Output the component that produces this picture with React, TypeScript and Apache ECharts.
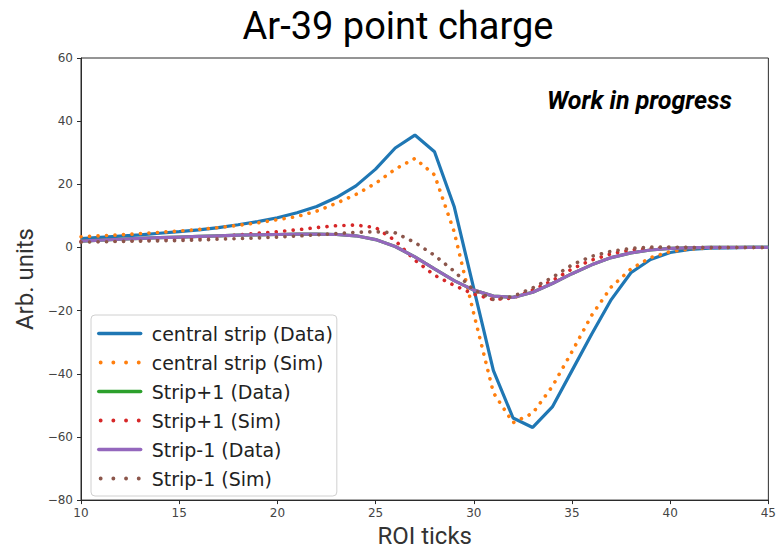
import React, { useEffect, useRef } from "react";
import * as echarts from "echarts";

// ROI tick positions (x) shared by every trace
const roiTicks = [
  10, 11, 12, 13, 14, 15, 16, 17, 18, 19, 20, 21, 22, 23, 24, 25, 26, 27,
  28, 29, 30, 31, 32, 33, 34, 35, 36, 37, 38, 39, 40, 41, 42, 43, 44, 45,
];

const centralData = [
  2.8, 3.2, 3.6, 4.0, 4.5, 5.0, 5.6, 6.3, 7.2, 8.2, 9.4, 11.0, 13.0, 15.8,
  19.5, 24.8, 31.5, 35.6, 30.3, 13.0, -13.0, -39.0, -54.0, -57.0, -50.5,
  -39.0, -27.5, -16.5, -8.0, -3.8, -1.6, -0.6, -0.2, -0.1, 0.0, 0.0,
];

const centralSim = [
  3.4, 3.7, 4.0, 4.4, 4.8, 5.2, 5.7, 6.3, 7.0, 7.8, 8.8, 9.8, 11.5, 14.0,
  16.8, 20.3, 24.8, 28.2, 23.0, 5.0, -21.0, -46.0, -55.5, -52.5, -44.0,
  -33.0, -21.5, -12.5, -6.8, -3.2, -1.3, -0.5, -0.2, 0.0, 0.0, 0.0,
];

const stripPlusData = [
  2.0, 2.3, 2.6, 2.9, 3.1, 3.3, 3.5, 3.7, 3.9, 4.0, 4.1, 4.2, 4.2, 4.1,
  3.7, 2.5, 0.3, -3.0, -6.8, -10.5, -13.5, -15.4, -15.8, -14.2, -11.4,
  -8.3, -5.5, -3.2, -1.7, -0.8, -0.3, -0.1, 0.0, 0.0, 0.0, 0.0,
];

const stripPlusSim = [
  1.9, 2.0, 2.1, 2.3, 2.5, 2.8, 3.1, 3.5, 4.0, 4.5, 5.0, 5.6, 6.3, 6.9,
  7.1, 6.3, 2.2, -4.0, -8.8, -12.0, -14.8, -16.5, -16.0, -13.5, -10.5,
  -6.8, -4.0, -2.0, -0.8, -0.3, -0.1, 0.0, 0.0, 0.0, 0.0, 0.0,
];

const stripMinusData = [
  2.0, 2.3, 2.6, 2.9, 3.1, 3.3, 3.5, 3.7, 3.9, 4.0, 4.1, 4.2, 4.2, 4.1,
  3.7, 2.5, 0.3, -3.0, -6.8, -10.5, -13.5, -15.4, -15.8, -14.2, -11.4,
  -8.3, -5.5, -3.2, -1.7, -0.8, -0.3, -0.1, 0.0, 0.0, 0.0, 0.0,
];

const stripMinusSim = [
  1.7, 1.8, 1.9, 2.0, 2.1, 2.2, 2.4, 2.6, 2.8, 3.0, 3.3, 3.6, 4.0, 4.4,
  4.8, 5.0, 4.6, 1.6, -2.5, -7.5, -13.5, -16.5, -15.5, -12.8, -9.5,
  -5.5, -2.8, -1.2, -0.3, 0.1, 0.1, 0.0, 0.0, 0.0, 0.0, 0.0,
];

const seriesNames = [
  "central strip (Data)",
  "central strip (Sim)",
  "Strip+1 (Data)",
  "Strip+1 (Sim)",
  "Strip-1 (Data)",
  "Strip-1 (Sim)",
];

const seriesColors = ["#1f77b4", "#ff7f0e", "#2ca02c", "#d62728", "#9467bd", "#8c564b"];
const seriesValues = [
  centralData,
  centralSim,
  stripPlusData,
  stripPlusSim,
  stripMinusData,
  stripMinusSim,
];
const dottedFlags = [false, true, false, true, false, true];

const xTicks = { min: 10, max: 45, step: 5 };
const yTicks = { min: -80, max: 60, step: 20 };

const minusSign = (v: number) => String(v).replace("-", "\u2212");

// Legend swatch for the dotted traces: four round dots in a row
const dotPitch = 11.7;
const dotR = 1.8;
const dotsIcon =
  "path://" +
  [0, 1, 2, 3]
    .map((k) => {
      const x0 = k * dotPitch;
      return `M${x0},${dotR}a${dotR},${dotR} 0 1,0 ${2 * dotR},0a${dotR},${dotR} 0 1,0 ${-2 * dotR},0Z`;
    })
    .join("");

export default function App() {
  const ref = useRef<HTMLDivElement>(null);

  useEffect(() => {
    if (!ref.current) return;
    const chart = echarts.init(ref.current, null, { renderer: "svg" });

    const series = seriesNames.map((name, i) => ({
      name,
      type: "line",
      data: roiTicks.map((x, k) => [x, seriesValues[i][k]]),
      symbol: "none",
      smooth: false,
      color: seriesColors[i],
      lineStyle: dottedFlags[i]
        ? { color: seriesColors[i], width: 3.6, type: [0.1, 8.4], cap: "round" }
        : { color: seriesColors[i], width: 3.2, type: "solid" },
      emphasis: { disabled: true },
    }));

    const legendData = seriesNames.map((name, i) =>
      dottedFlags[i]
        ? {
            name,
            icon: dotsIcon,
            itemStyle: { opacity: 1, color: seriesColors[i], borderWidth: 0 },
          }
        : { name }
    );

    const axisLine = {
      show: true,
      onZero: false,
      lineStyle: { color: "#2b2b2b", width: 1 },
    };
    const axisTick = {
      show: true,
      inside: false,
      length: 4,
      lineStyle: { color: "#2b2b2b" },
    };
    const nameStyle = { fontFamily: "Roboto", fontSize: 24, color: "#333" };
    const tickLabel = {
      fontFamily: "DejaVu Sans",
      fontSize: 12,
      color: "#444",
      formatter: minusSign,
    };

    chart.setOption({
      animation: false,
      backgroundColor: "#ffffff",
      grid: {
        left: 81,
        right: 8,
        top: 58,
        bottom: 48,
        show: true,
        borderColor: "#2b2b2b",
        borderWidth: 1,
        backgroundColor: "transparent",
      },
      xAxis: {
        type: "value",
        min: xTicks.min,
        max: xTicks.max,
        interval: xTicks.step,
        name: "ROI ticks",
        nameLocation: "middle",
        nameGap: 22,
        nameTextStyle: nameStyle,
        axisLine,
        axisTick,
        axisLabel: { ...tickLabel, margin: 7 },
        splitLine: { show: false },
      },
      yAxis: {
        type: "value",
        min: yTicks.min,
        max: yTicks.max,
        interval: yTicks.step,
        name: "Arb. units",
        nameLocation: "middle",
        nameGap: 44,
        nameRotate: 90,
        nameTextStyle: nameStyle,
        axisLine,
        axisTick,
        axisLabel: { ...tickLabel, margin: 8 },
        splitLine: { show: false },
      },
      legend: {
        orient: "vertical",
        left: 91,
        top: 315,
        itemWidth: 42,
        itemHeight: 19,
        itemGap: 10,
        padding: [9, 4, 8, 6],
        backgroundColor: "#ffffff",
        borderColor: "#d0d0d0",
        borderWidth: 1,
        borderRadius: 4,
        selectedMode: false,
        data: legendData,
        itemStyle: { opacity: 0 },
        lineStyle: { width: 3.4, cap: "round" },
        textStyle: {
          fontFamily: "DejaVu Sans",
          fontSize: 19,
          color: "#222",
          padding: [0, 0, 0, 6],
        },
      },
      graphic: [
        {
          type: "text",
          x: 398,
          y: 26,
          style: {
            text: "Ar-39 point charge",
            fontFamily: "Roboto",
            fontSize: 38,
            fill: "#000",
            textAlign: "center",
            textVerticalAlign: "middle",
          },
        },
        {
          type: "text",
          x: 547,
          y: 100,
          z: 10,
          style: {
            text: "Work in progress",
            fontFamily: "Roboto",
            fontSize: 25,
            fontWeight: "bold",
            fontStyle: "italic",
            fill: "#000",
            textAlign: "left",
            textVerticalAlign: "middle",
          },
        },
      ],
      series,
    });

    return () => chart.dispose();
  }, []);

  return (
    <div
      ref={ref}
      style={{ position: "fixed", left: 0, top: 0, width: 779, height: 553 }}
    />
  );
}
